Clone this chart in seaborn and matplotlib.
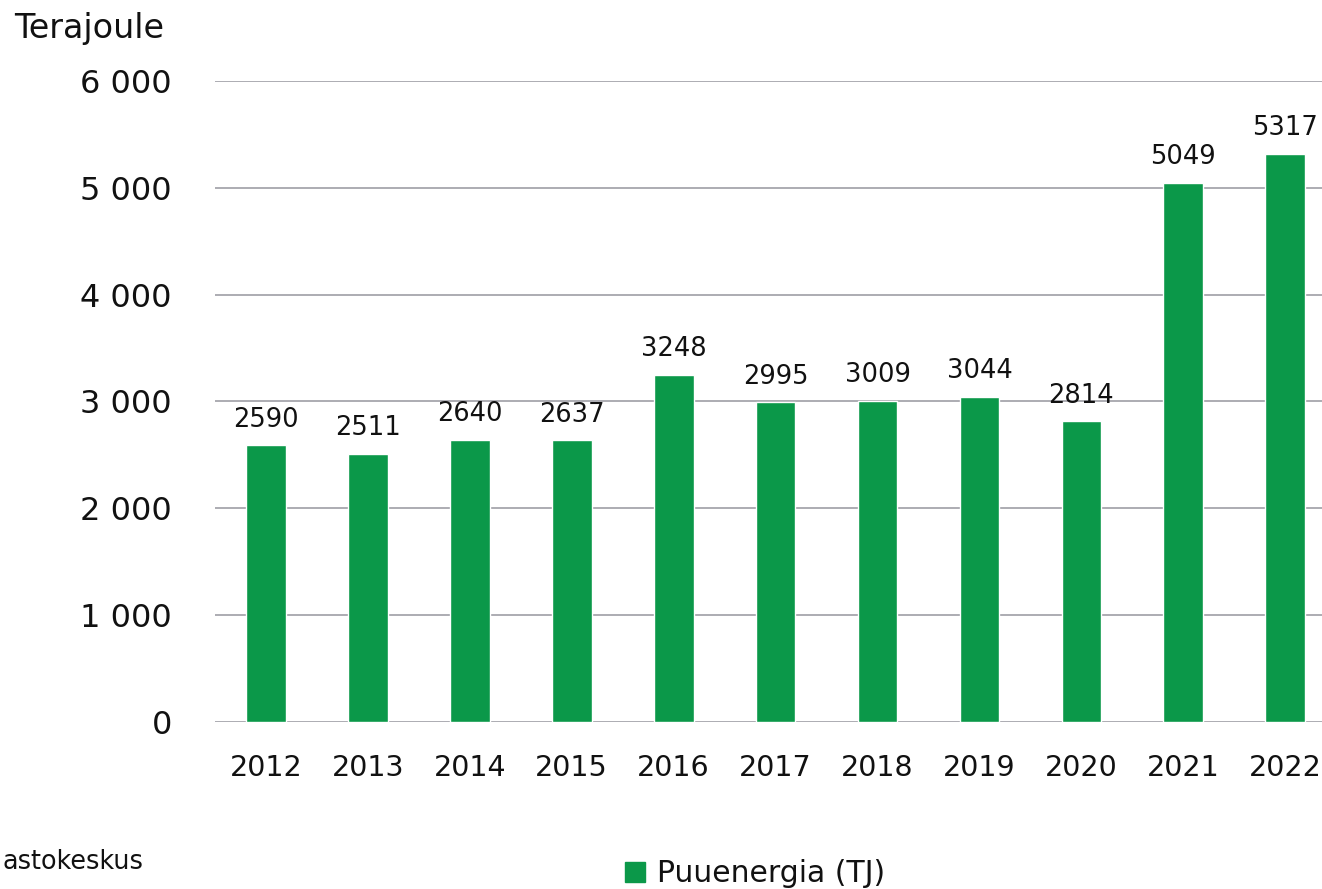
import pandas as pd
import matplotlib.pyplot as plt
import seaborn as sns
from matplotlib.patches import Patch
from matplotlib.ticker import FuncFormatter

years = ['2012', '2013', '2014', '2015', '2016', '2017', '2018', '2019', '2020', '2021', '2022']
values = [2590, 2511, 2640, 2637, 3248, 2995, 3009, 3044, 2814, 5049, 5317]
series_name = 'Puuenergia (TJ)'
source = 'astokeskus'  # cut off at the left edge in the original
green = '#0B9849'

data = pd.DataFrame({'Vuosi': years, 'TJ': values})

sns.set_theme(style='white')
plt.rcParams['font.family'] = ['DejaVu Sans']
plt.rcParams['text.color'] = '#111111'

fig = plt.figure(figsize=(13.22, 8.89), dpi=100)
ax = fig.add_axes([0.1626, 0.1879, 0.8374, 0.721])

sns.barplot(data=data, x='Vuosi', y='TJ', color=green, saturation=1, width=0.39, ax=ax)

ax.set_ylim(0, 6000)
ax.set_xlim(-0.5, 10.36)
ax.set_yticks(range(0, 6001, 1000))
ax.yaxis.set_major_formatter(FuncFormatter(lambda v, p: f'{int(v):,}'.replace(',', ' ')))
ax.grid(axis='y', color='#A6A6AD', linewidth=1.3)
ax.set_axisbelow(True)
for s in ax.spines.values():
    s.set_visible(False)
ax.tick_params(axis='y', labelsize=23, pad=31, length=0, labelcolor='#111111')
ax.tick_params(axis='x', labelsize=20.5, pad=23, length=0, labelcolor='#111111')
ax.set_xlabel('')
ax.set_ylabel('')

ax.bar_label(ax.containers[0], fontsize=18.5, padding=9, color='#111111')

fig.text(0.011, 0.968, 'Terajoule', fontsize=24, ha='left', va='center')
fig.text(0.002, 0.016, source, fontsize=18.4, ha='left', va='bottom')

fig.legend(handles=[Patch(color=green, label=series_name)], loc='center left',
           bbox_to_anchor=(0.473, 0.017), frameon=False, fontsize=21.5,
           handlelength=0.65, handleheight=0.65, handletextpad=0.4, borderpad=0,
           borderaxespad=0)

fig.savefig('out.png', dpi=100)
